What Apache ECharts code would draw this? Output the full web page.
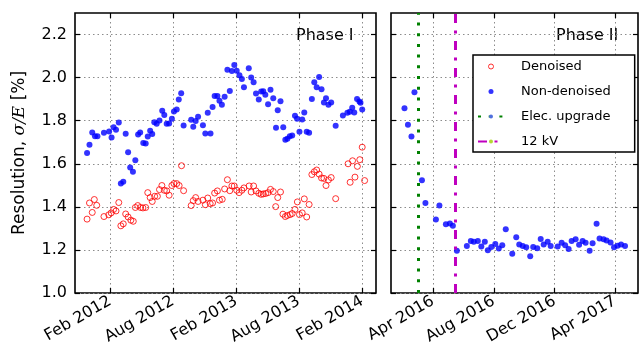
<!DOCTYPE html>
<html><head><meta charset="utf-8">
<script src="https://cdn.jsdelivr.net/npm/echarts@6/dist/echarts.min.js"></script>
<style>html,body{margin:0;padding:0;background:#fff}#c{width:640px;height:352px}</style>
</head><body><div id="c"></div>
<script>
// ---- data ----
const phase1Denoised = [
['2011-11-26',1.343],['2011-12-03',1.418],['2011-12-11',1.374],['2011-12-17',1.434],['2011-12-24',1.407],
['2012-01-14',1.355],['2012-01-28',1.363],['2012-02-04',1.372],['2012-02-11',1.388],['2012-02-18',1.381],
['2012-02-26',1.420],['2012-03-03',1.312],['2012-03-10',1.321],['2012-03-17',1.367],['2012-03-24',1.353],
['2012-04-01',1.338],['2012-04-08',1.333],['2012-04-14',1.397],['2012-04-21',1.406],['2012-04-29',1.397],
['2012-05-06',1.395],['2012-05-14',1.397],['2012-05-20',1.466],['2012-05-27',1.443],['2012-06-02',1.425],
['2012-06-09',1.449],['2012-06-17',1.449],['2012-06-23',1.480],['2012-06-30',1.499],['2012-07-07',1.477],
['2012-07-14',1.474],['2012-07-21',1.454],['2012-07-29',1.499],['2012-08-04',1.508],['2012-08-12',1.508],
['2012-08-19',1.499],['2012-08-26',1.591],['2012-09-01',1.475],['2012-09-23',1.406],['2012-09-29',1.429],
['2012-10-06',1.443],['2012-10-13',1.425],['2012-10-27',1.431],['2012-11-03',1.410],['2012-11-10',1.441],
['2012-11-17',1.415],['2012-11-24',1.418],['2012-11-30',1.464],['2012-12-08',1.474],['2012-12-14',1.431],
['2012-12-22',1.435],['2012-12-29',1.483],['2013-01-06',1.526],['2013-01-13',1.475],['2013-01-19',1.497],
['2013-01-26',1.497],['2013-02-02',1.477],['2013-02-09',1.466],['2013-02-17',1.477],['2013-02-23',1.488],
['2013-03-10',1.497],['2013-03-16',1.469],['2013-03-23',1.497],['2013-03-30',1.474],['2013-04-07',1.463],
['2013-04-14',1.458],['2013-04-20',1.460],['2013-04-27',1.462],['2013-05-04',1.466],['2013-05-11',1.481],
['2013-05-19',1.471],['2013-05-26',1.401],['2013-06-01',1.443],['2013-06-09',1.469],['2013-06-16',1.366],
['2013-06-23',1.355],['2013-06-29',1.360],['2013-07-07',1.364],['2013-07-13',1.369],['2013-07-21',1.388],
['2013-07-28',1.423],['2013-08-03',1.364],['2013-08-11',1.372],['2013-08-17',1.437],['2013-08-24',1.353],
['2013-08-31',1.411],['2013-09-08',1.550],['2013-09-15',1.563],['2013-09-22',1.571],['2013-09-29',1.552],
['2013-10-06',1.534],['2013-10-13',1.532],['2013-10-19',1.499],['2013-10-26',1.525],['2013-11-03',1.536],
['2013-11-16',1.438],['2013-12-22',1.600],['2013-12-28',1.514],['2014-01-04',1.614],['2014-01-11',1.538],
['2014-01-18',1.588],['2014-01-25',1.619],['2014-02-01',1.677],['2014-02-08',1.522]
];
const phase1NonDenoised = [
['2011-11-26',1.650],['2011-12-03',1.688],['2011-12-11',1.745],['2011-12-19',1.728],['2011-12-26',1.728],
['2012-01-14',1.744],['2012-01-29',1.750],['2012-02-05',1.722],['2012-02-11',1.769],['2012-02-18',1.758],
['2012-02-26',1.792],['2012-03-03',1.508],['2012-03-10',1.517],['2012-03-17',1.739],['2012-03-24',1.654],
['2012-03-30',1.583],['2012-04-07',1.563],['2012-04-14',1.616],['2012-04-22',1.736],['2012-04-28',1.745],
['2012-05-07',1.696],['2012-05-14',1.694],['2012-05-20',1.727],['2012-05-27',1.753],['2012-06-02',1.738],
['2012-06-08',1.793],['2012-06-15',1.786],['2012-06-23',1.801],['2012-07-01',1.846],['2012-07-07',1.827],
['2012-07-14',1.786],['2012-07-21',1.787],['2012-07-29',1.809],['2012-08-04',1.843],['2012-08-12',1.852],
['2012-08-18',1.898],['2012-08-25',1.927],['2012-09-01',1.778],['2012-09-23',1.804],['2012-09-29',1.772],
['2012-10-06',1.798],['2012-10-13',1.818],['2012-10-27',1.779],['2012-11-03',1.741],['2012-11-10',1.837],
['2012-11-18',1.741],['2012-11-24',1.864],['2012-11-30',1.915],['2012-12-08',1.915],['2012-12-14',1.893],
['2012-12-21',1.874],['2012-12-29',1.911],['2013-01-06',2.036],['2013-01-13',1.938],['2013-01-19',2.031],
['2013-01-26',2.059],['2013-02-02',2.032],['2013-02-10',2.011],['2013-02-17',1.994],['2013-02-23',1.955],
['2013-03-09',2.043],['2013-03-16',2.000],['2013-03-23',1.978],['2013-03-30',1.926],['2013-04-07',1.898],
['2013-04-14',1.935],['2013-04-20',1.937],['2013-04-26',1.921],['2013-05-04',1.876],['2013-05-11',1.944],
['2013-05-19',1.904],['2013-05-27',1.767],['2013-06-01',1.849],['2013-06-09',1.890],['2013-06-17',1.769],
['2013-06-23',1.712],['2013-06-29',1.716],['2013-07-06',1.728],['2013-07-13',1.731],['2013-07-21',1.823],
['2013-07-27',1.809],['2013-08-03',1.749],['2013-08-11',1.806],['2013-08-17',1.838],['2013-08-24',1.749],
['2013-08-31',1.744],['2013-09-08',1.901],['2013-09-15',1.978],['2013-09-22',1.955],['2013-09-29',2.003],
['2013-10-06',1.946],['2013-10-13',1.884],['2013-10-19',1.904],['2013-10-26',1.874],['2013-11-03',1.884],
['2013-11-16',1.776],['2013-12-07',1.824],['2013-12-20',1.837],['2013-12-27',1.841],['2014-01-03',1.860],
['2014-01-09',1.838],['2014-01-17',1.901],['2014-01-24',1.889],['2014-01-27',1.883],['2014-02-01',1.852]
];
const phase2NonDenoised = [
['2016-02-04',1.858],['2016-02-11',1.781],['2016-02-18',1.727],['2016-02-24',1.932],['2016-03-10',1.523],
['2016-03-17',1.418],['2016-04-07',1.341],['2016-04-14',1.406],['2016-04-27',1.319],['2016-05-05',1.323],
['2016-05-11',1.312],['2016-05-19',1.196],['2016-06-08',1.218],['2016-06-16',1.242],['2016-06-22',1.238],
['2016-06-30',1.242],['2016-07-07',1.216],['2016-07-14',1.238],['2016-07-20',1.199],['2016-07-27',1.214],
['2016-08-04',1.227],['2016-08-11',1.207],['2016-08-18',1.222],['2016-08-25',1.296],['2016-09-07',1.182],
['2016-09-15',1.259],['2016-09-21',1.225],['2016-09-28',1.218],['2016-10-05',1.212],['2016-10-13',1.171],
['2016-10-19',1.214],['2016-10-27',1.208],['2016-11-03',1.251],['2016-11-09',1.225],['2016-11-17',1.238],
['2016-11-23',1.218],['2016-12-07',1.216],['2016-12-15',1.233],['2016-12-22',1.222],['2016-12-29',1.204],
['2017-01-04',1.241],['2017-01-12',1.250],['2017-01-19',1.224],['2017-01-26',1.242],['2017-02-01',1.233],
['2017-02-09',1.196],['2017-02-15',1.231],['2017-02-23',1.321],['2017-03-01',1.253],['2017-03-09',1.249],
['2017-03-15',1.244],['2017-03-23',1.235],['2017-03-30',1.212],['2017-04-06',1.219],['2017-04-13',1.225],
['2017-04-21',1.218]
];
const elecUpgradeDate = '2016-03-03';
const kv12Date = '2016-05-16';

const phase1Range = ['2011-10-22', '2014-03-13'];
const phase2Range = ['2016-01-08', '2017-05-17'];
const phase1Ticks = ['2012-02-01','2012-08-01','2013-02-01','2013-08-01','2014-02-01'];
const phase1TickLabels = ['Feb 2012','Aug 2012','Feb 2013','Aug 2013','Feb 2014'];
const phase2Ticks = ['2016-04-01','2016-08-01','2016-12-01','2017-04-01'];
const phase2TickLabels = ['Apr 2016','Aug 2016','Dec 2016','Apr 2017'];
const yTicks = [1.0, 1.2, 1.4, 1.6, 1.8, 2.0, 2.2];
const yRange = [1.0, 2.3];

// ---- helpers ----
function t(s){ const p = s.split('-').map(Number); return Date.UTC(p[0], p[1]-1, p[2]); }
const toPts = arr => arr.map(d => [t(d[0]), d[1]]);
const FONT = 'DejaVu Sans';
const splitStyle = { show:true, lineStyle:{ color:'#8c8c8c', width:1, type:[1.5,3] } };
const tickStyle = { color:'#000', width:1.2 };

function xAxisDef(gridIndex, range, ticks, labels, bottom){
  const tv = ticks.map(t);
  return {
    type:'value', gridIndex, position: bottom ? 'bottom' : 'top',
    min:t(range[0]), max:t(range[1]),
    axisLine:{ show:false },
    axisTick:{ show:true, inside:true, length:5, customValues:tv, lineStyle:tickStyle },
    axisLabel:{ show:bottom, customValues:tv, rotate:30, fontFamily:FONT, fontSize:16, color:'#000', margin:7,
      formatter: v => { let bi=0, bd=Infinity; tv.forEach((x,i)=>{const d=Math.abs(x-v); if(d<bd){bd=d;bi=i;}}); return labels[bi]; } },
    splitLine: bottom ? splitStyle : { show:false }
  };
}
function yAxisDef(gridIndex, left, showLabel){
  return {
    type:'value', gridIndex, position: left ? 'left' : 'right',
    min:yRange[0], max:yRange[1],
    axisLine:{ show:false },
    axisTick:{ show:true, inside:true, length:5, customValues:yTicks, lineStyle:tickStyle },
    axisLabel:{ show:showLabel, customValues:yTicks, fontFamily:FONT, fontSize:16, color:'#000', margin:8,
      formatter: v => v.toFixed(1) },
    splitLine: left ? splitStyle : { show:false }
  };
}

const yAxes = [yAxisDef(0,true,true), yAxisDef(0,false,false), yAxisDef(1,true,false), yAxisDef(1,false,false)];
yAxes[0].name = '{a|Resolution, }{b|σ/E}{a| [%]}';
yAxes[0].nameLocation = 'middle';
yAxes[0].nameGap = 47;
yAxes[0].nameTextStyle = { rich:{ a:{ fontFamily:FONT, fontSize:17, color:'#000' },
  b:{ fontFamily:'DejaVu Serif', fontStyle:'italic', fontSize:17, color:'#000' } } };

const elecColor = '#008000', kvColor = '#bf00bf';
const elecDash = [3, 7.7], kvDash = [9, 7.5, 3, 7.5];

const option = {
  animation:false,
  backgroundColor:'#fff',
  grid:[
    { left:75, top:13, width:301, height:280, show:true, borderColor:'#000', borderWidth:1.6, backgroundColor:'transparent' },
    { left:391, top:13, width:247, height:280, show:true, borderColor:'#000', borderWidth:1.6, backgroundColor:'transparent' }
  ],
  xAxis:[
    xAxisDef(0, phase1Range, phase1Ticks, phase1TickLabels, true),
    xAxisDef(0, phase1Range, phase1Ticks, phase1TickLabels, false),
    xAxisDef(1, phase2Range, phase2Ticks, phase2TickLabels, true),
    xAxisDef(1, phase2Range, phase2Ticks, phase2TickLabels, false)
  ],
  yAxis: yAxes,
  legend:{
    data:['Denoised','Non-denoised','Elec. upgrade','12 kV'],
    orient:'vertical', left:473, top:55,
    itemWidth:26, itemHeight:5, itemGap:12,
    padding:[5,24,4,4],
    backgroundColor:'#fff', borderColor:'#000', borderWidth:1.5, borderRadius:0,
    selectedMode:false,
    itemStyle:{ borderWidth:1 },
    textStyle:{ fontFamily:FONT, fontSize:13, color:'#000', padding:[0,0,0,12] }
  },
  graphic:[
    { type:'text', x:296, y:36, style:{ text:'Phase I', font:'16px "DejaVu Sans"', fill:'#000', verticalAlign:'middle' } },
    { type:'text', x:556, y:36, style:{ text:'Phase II', font:'16px "DejaVu Sans"', fill:'#000', verticalAlign:'middle' } }
  ],
  series:[
    { name:'Denoised', type:'scatter', xAxisIndex:0, yAxisIndex:0, data:toPts(phase1Denoised),
      symbol:'circle', symbolSize:6, itemStyle:{ color:'transparent', borderColor:'#ff0000', borderWidth:1 } },
    { name:'Non-denoised', type:'scatter', xAxisIndex:0, yAxisIndex:0, data:toPts(phase1NonDenoised),
      symbol:'circle', symbolSize:6, itemStyle:{ color:'#0000ff' } },
    { name:'Non-denoised', type:'scatter', xAxisIndex:2, yAxisIndex:2, data:toPts(phase2NonDenoised),
      symbol:'circle', symbolSize:6, itemStyle:{ color:'#0000ff' } },
    { name:'Elec. upgrade', type:'line', xAxisIndex:2, yAxisIndex:2, data:[], symbol:'none',
      lineStyle:{ color:elecColor, width:3, type:elecDash },
      markLine:{ silent:true, symbol:['none','none'], label:{show:false},
        lineStyle:{ color:elecColor, width:3, type:elecDash }, data:[{ xAxis:t(elecUpgradeDate) }] } },
    { name:'12 kV', type:'line', xAxisIndex:2, yAxisIndex:2, data:[], symbol:'none',
      lineStyle:{ color:kvColor, width:3, type:kvDash },
      markLine:{ silent:true, symbol:['none','none'], label:{show:false},
        lineStyle:{ color:kvColor, width:3, type:kvDash }, data:[{ xAxis:t(kv12Date) }] } }
  ]
};
const chart = echarts.init(document.getElementById('c'), null, { renderer:'canvas' });
chart.setOption(option);
</script></body></html>
